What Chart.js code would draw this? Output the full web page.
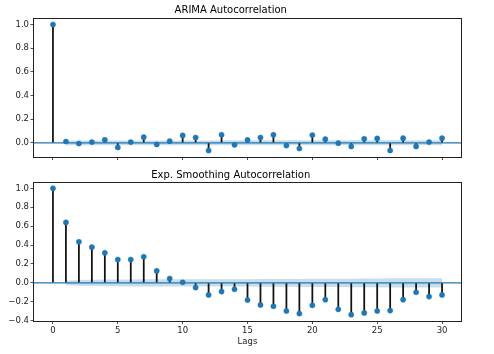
<!DOCTYPE html>
<html>
<head>
<meta charset="utf-8">
<script src="https://cdn.jsdelivr.net/npm/chart.js@4.4.0/dist/chart.umd.min.js"></script>
<style>
  html, body { margin: 0; padding: 0; background: #fff; }
  #wrap { position: relative; width: 494px; height: 354px; }
  .box { position: absolute; left: 0; width: 494px; }
  #top { top: 0; height: 166px; }
  #bottom { top: 166px; height: 188px; }
  canvas { display: block; }
</style>
</head>
<body>
<div id="wrap">
  <div class="box" id="top"><canvas id="acfArima" width="494" height="166"></canvas></div>
  <div class="box" id="bottom"><canvas id="acfExp" width="494" height="188"></canvas></div>
</div>
<script>
// lags 0..30
const lags = [0, 1, 2, 3, 4, 5, 6, 7, 8, 9, 10, 11, 12, 13, 14, 15,
              16, 17, 18, 19, 20, 21, 22, 23, 24, 25, 26, 27, 28, 29, 30];

const arimaAcf = [1.0, 0.011, -0.006, 0.006, 0.025, -0.039, 0.006, 0.048, -0.014, 0.014, 0.062,
                  0.045, -0.065, 0.068, -0.017, 0.024, 0.045, 0.068, -0.023, -0.048, 0.065,
                  0.031, -0.003, -0.031, 0.034, 0.037, -0.065, 0.039, -0.031, 0.006, 0.039];

const expAcf = [1.0, 0.64, 0.435, 0.378, 0.318, 0.247, 0.247, 0.276, 0.127, 0.046, 0.007,
                -0.049, -0.127, -0.092, -0.067, -0.182, -0.233, -0.247, -0.297, -0.325, -0.237,
                -0.177, -0.28, -0.336, -0.318, -0.297, -0.293, -0.177, -0.099, -0.145, -0.127];

// confidence band half widths, lags 1..30
const arimaBand = [0.020, 0.020, 0.020, 0.020, 0.020, 0.020, 0.020, 0.020, 0.020, 0.020,
                   0.020, 0.020, 0.021, 0.021, 0.021, 0.021, 0.021, 0.021, 0.021, 0.021,
                   0.021, 0.021, 0.021, 0.021, 0.021, 0.021, 0.021, 0.021, 0.021, 0.021];

const expBand = [0.022, 0.030, 0.033, 0.035, 0.036, 0.037, 0.038, 0.039, 0.039, 0.039,
                 0.039, 0.039, 0.039, 0.039, 0.039, 0.040, 0.040, 0.041, 0.042, 0.043,
                 0.044, 0.044, 0.045, 0.046, 0.047, 0.048, 0.049, 0.049, 0.049, 0.050];

const xTicks = [0, 5, 10, 15, 20, 25, 30];
const yTicksArima = [0, 0.2, 0.4, 0.6, 0.8, 1.0];
const yTicksExp = [-0.4, -0.2, 0, 0.2, 0.4, 0.6, 0.8, 1.0];

const X_MIN = -1.5, X_MAX = 31.5;
const BLUE = '#1f77b4';
const INK = '#222';
const FONT = 'DejaVu Sans';

// draws the four spines on top of the data
const frame = {
    id: 'frame',
    afterDatasetsDraw(chart) {
        const { ctx, chartArea: a } = chart;
        ctx.save();
        ctx.strokeStyle = INK;
        ctx.lineWidth = 1;
        const l = Math.floor(a.left) + 0.5, t = Math.floor(a.top) + 0.5;
        const r = Math.floor(a.right) + 0.5, b = Math.floor(a.bottom) + 0.5;
        ctx.strokeRect(l, t, r - l, b - t);
        ctx.restore();
    }
};

function makeAcfChart(id, title, acf, band, yMin, yMax, yTicks, opts) {
    const points = lags.map((l, i) => ({ x: l, y: acf[i] }));
    const bandLags = lags.slice(1);

    return new Chart(document.getElementById(id), {
        type: 'scatter',
        data: {
            datasets: [
                {
                    type: 'scatter',
                    data: points,
                    pointRadius: 2.6,
                    pointBackgroundColor: BLUE,
                    pointBorderColor: BLUE,
                    pointBorderWidth: 0.5,
                    order: 0
                },
                {
                    type: 'line',
                    data: [{ x: X_MIN, y: 0 }, { x: X_MAX, y: 0 }],
                    borderColor: BLUE,
                    borderWidth: 1.25,
                    pointRadius: 0,
                    fill: false,
                    order: 1
                },
                {
                    type: 'bar',
                    data: points,
                    backgroundColor: '#111',
                    barThickness: 1.1,
                    order: 2
                },
                {
                    type: 'line',
                    data: bandLags.map((l, i) => ({ x: l, y: band[i] })),
                    borderWidth: 0,
                    pointRadius: 0,
                    fill: false,
                    order: 3
                },
                {
                    type: 'line',
                    data: bandLags.map((l, i) => ({ x: l, y: -band[i] })),
                    borderWidth: 0,
                    pointRadius: 0,
                    backgroundColor: 'rgba(31,119,180,0.25)',
                    fill: '-1',
                    order: 3
                }
            ]
        },
        options: {
            responsive: false,
            animation: false,
            layout: { padding: { left: 0, right: 32.5, top: 0, bottom: 0 } },
            plugins: {
                legend: { display: false },
                tooltip: { enabled: false },
                title: {
                    display: true,
                    text: title,
                    color: '#000',
                    font: { family: FONT, size: 10, weight: 'normal' },
                    padding: opts.titlePad
                }
            },
            scales: {
                x: {
                    type: 'linear',
                    min: X_MIN,
                    max: X_MAX,
                    offset: false,
                    afterBuildTicks: s => { s.ticks = xTicks.map(v => ({ value: v })); },
                    afterFit: s => { s.height = opts.xHeight; },
                    grid: { display: true, drawOnChartArea: false, drawTicks: true, tickLength: 3,
                            tickColor: INK, tickWidth: 0.8, offset: false },
                    border: { display: false },
                    ticks: {
                        display: opts.xLabels,
                        padding: 2,
                        color: INK,
                        maxRotation: 0,
                        font: { family: FONT, size: 8.5 },
                        callback: v => String(v)
                    },
                    title: {
                        display: opts.xLabels,
                        text: 'Lags',
                        color: INK,
                        font: { family: FONT, size: 8.5 },
                        padding: { top: 0, bottom: 7 }
                    }
                },
                y: {
                    min: yMin,
                    max: yMax,
                    afterBuildTicks: s => { s.ticks = yTicks.map(v => ({ value: v })); },
                    afterFit: s => { s.width = 33.5; },
                    grid: { display: true, drawOnChartArea: false, drawTicks: true, tickLength: 3,
                            tickColor: INK, tickWidth: 0.8 },
                    border: { display: false },
                    ticks: {
                        padding: 1.5,
                        color: INK,
                        font: { family: FONT, size: 8.5 },
                        callback: v => v.toFixed(1).replace('-', '\u2212')
                    }
                }
            }
        },
        plugins: [frame]
    });
}

makeAcfChart('acfArima', 'ARIMA Autocorrelation', arimaAcf, arimaBand, -0.12, 1.055, yTicksArima,
    { titlePad: { top: 4, bottom: 2 }, xHeight: 9, xLabels: false });

makeAcfChart('acfExp', 'Exp. Smoothing Autocorrelation', expAcf, expBand, -0.403, 1.067, yTicksExp,
    { titlePad: { top: 3, bottom: 1 }, xHeight: 33, xLabels: true });
</script>
</body>
</html>
